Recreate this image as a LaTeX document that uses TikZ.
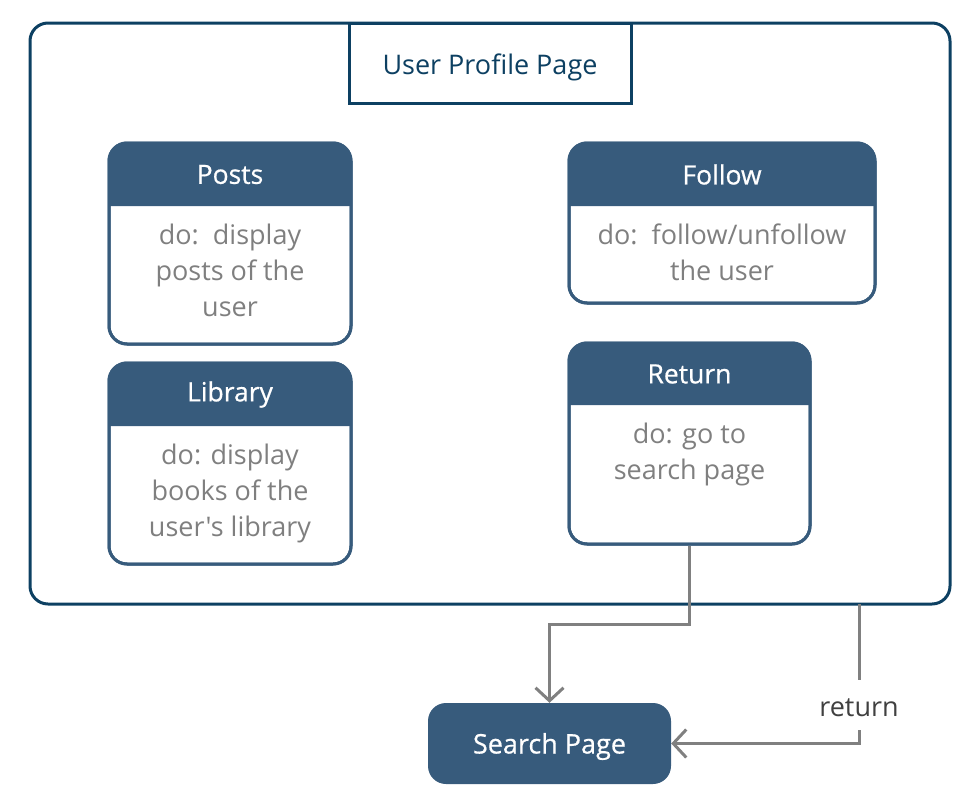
\documentclass[tikz,border=0pt]{standalone}
\usepackage{fontspec}
\setmainfont{Open Sans}[Ligatures=TeXOff]
\newfontfamily\hdrfont{Open Sans}[Ligatures=TeXOff,FakeBold=0.6]
\usetikzlibrary{arrows.meta,calc}
\definecolor{hdr}{HTML}{375B7C}
\definecolor{outer}{HTML}{0D4062}
\definecolor{bodytxt}{HTML}{7F7F7F}
\definecolor{arr}{HTML}{808080}
\tikzset{
  statebox/.style={draw=hdr, line width=3pt, rounded corners=18pt, inner sep=0pt},
  hdrtext/.style={text=white, font=\hdrfont\fontsize{26.5}{30}\selectfont},
  bodytext/.style={text=bodytxt, font=\fontsize{27}{36}\selectfont, align=center, anchor=north, inner sep=0pt},
  flow/.style={draw=arr, line width=3pt, -{Straight Barb[length=13pt,width=28pt,line width=3pt]}},
}
\newcommand{\mystate}[8]{%
  % name, x1, y1, x2, y2, header bottom, title, body
  \node[statebox, minimum width={#4-#2}, minimum height={#5-#3}] (#1) at ({(#2+#4)/2},{(#3+#5)/2}) {};
  \fill[hdr] (#2,#6) [rounded corners=18pt] -- (#2,#3) -- (#4,#3) [sharp corners] -- (#4,#6) -- cycle;
  \draw[hdr, line width=3pt, rounded corners=18pt] (#2,#3) rectangle (#4,#5);
  \node[hdrtext] (#1-title) at ({(#2+#4)/2},{(#3+#6)/2}) {#7};
  \node[bodytext] (#1-body) at ({(#2+#4)/2},{#6+17.5}) {#8};
}
\begin{document}
\begin{tikzpicture}[x=1pt,y=-1pt]
\useasboundingbox (0,0) rectangle (977,803);
% outer container
\node[draw=outer, line width=3pt, rounded corners=18pt, minimum width=920pt, minimum height=581pt, inner sep=0pt] (page) at (490,313.5) {};
% title box
\node[draw=outer, fill=white, line width=3pt, minimum width=282pt, minimum height=80pt, inner sep=0pt] (ptitle) at (490,63.5) {};
\node[text=outer, font=\fontsize{27}{30}\selectfont, inner sep=0pt] (ptitle-text) at (490,67) {User Profile Page};
\draw[outer, line width=3pt] (349,23) -- (631,23);

\mystate{posts}{109}{143}{351}{344}{206}{Posts}{do:\ \ display\\posts of the\\user}
\mystate{follow}{569}{143}{875}{303}{206}{Follow}{do:\ \ follow/unfollow\\the user}
\mystate{library}{109}{363}{351}{564}{426}{Library}{do: display\\books of the\\user's library}
\mystate{return}{569}{343}{810}{544}{405}{Return}{do: go to\\search page}

% search page
\node[fill=hdr, rounded corners=18pt, minimum width=243pt, minimum height=81pt, inner sep=0pt] (search) at (549.5,743.5) {};
\node[text=white, font=\hdrfont\fontsize{27}{30}\selectfont, inner sep=0pt] (search-text) at (549.5,746.5) {Search Page};

% connectors
\draw[flow] (return.south) -- ++(0,79) -| (search.north);
\coordinate (rstart) at (859,604);
\coordinate (rgap1) at (859,680);
\coordinate (rgap2) at (859,730);
\node[text=black!75, font=\fontsize{27}{30}\selectfont, inner sep=0pt] (retlabel) at (859,708) {return};
\draw[arr, line width=3pt] (rstart) -- (rgap1);
\draw[flow] (rgap2) |- (search.east);
\end{tikzpicture}
\end{document}
